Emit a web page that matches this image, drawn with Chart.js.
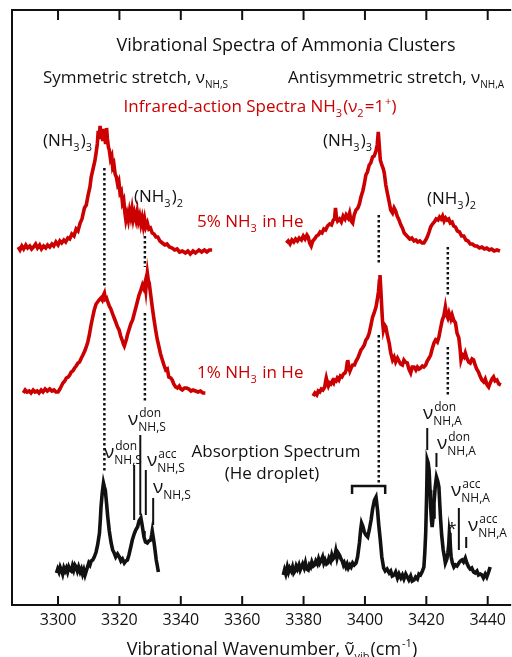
<!DOCTYPE html>
<html>
<head>
<meta charset="utf-8">
<script src="https://cdn.jsdelivr.net/npm/chart.js@4.4.0/dist/chart.umd.min.js"></script>
<style>
  html, body { margin: 0; padding: 0; background: #fff; }
  #spectra { display: block; }
</style>
</head>
<body>
<canvas id="spectra" width="512" height="657"></canvas>
<script>
(function () {
    // wavenumber ticks (cm-1)
    var tickValues = [3300, 3320, 3340, 3360, 3380, 3400, 3420, 3440];

    // traces: [wavenumber, stacked intensity]
    // 5% NH3 in He, symmetric stretch region
    var sym5 = [[3287.0,358],[3287.6,355],[3288.2,359],[3288.8,356],[3289.5,360],[3290.1,357],[3290.8,359],[3291.4,356],[3292.0,358],[3292.7,361],[3293.3,357],[3294.0,360],[3294.6,356],[3295.3,359],[3296.0,357],[3296.6,360],[3297.3,358],[3298.0,361],[3298.6,359],[3299.3,363],[3300.0,360],[3300.6,364],[3301.2,362],[3301.9,365],[3302.5,363],[3303.2,367],[3303.8,366],[3304.5,371],[3305.2,369],[3305.9,376],[3306.5,374],[3307.2,382],[3307.8,386],[3308.6,397],[3309.2,400],[3309.8,410],[3310.4,418],[3310.8,428],[3311.4,436],[3312.0,444],[3312.4,452],[3312.8,461],[3313.1,474],[3313.4,466],[3313.7,479],[3314.0,468],[3314.3,472],[3314.6,464],[3314.9,476],[3315.2,468],[3315.5,461],[3315.8,477],[3316.1,466],[3316.4,458],[3316.7,455],[3317.1,446],[3317.5,449],[3317.8,438],[3318.2,441],[3318.6,431],[3319.0,428],[3319.4,421],[3319.8,424],[3320.2,412],[3320.6,414],[3321.0,402],[3321.4,405],[3321.8,392],[3322.1,385],[3322.5,391],[3322.9,385],[3323.3,394],[3323.7,388],[3324.1,396],[3324.5,386],[3324.9,392],[3325.4,385],[3325.8,393],[3326.2,384],[3326.6,389],[3327.0,381],[3327.4,387],[3327.8,379],[3328.2,386],[3328.6,378],[3329.1,382],[3329.6,376],[3330.1,377],[3330.7,372],[3331.3,371],[3331.9,368],[3332.5,368],[3333.2,364],[3334.0,362],[3334.8,360],[3335.5,361],[3336.3,358],[3337.2,357],[3338.0,355],[3338.8,356],[3339.6,353],[3340.5,354],[3341.5,352],[3342.3,354],[3343.1,351],[3344.0,354],[3344.8,352],[3345.9,355],[3346.8,353],[3347.7,355],[3348.5,353],[3349.3,355],[3350.2,355]];

    // 5% NH3 in He, antisymmetric stretch region
    var asym5 = [[3374.4,362],[3375.0,364],[3375.6,361],[3376.2,365],[3376.8,363],[3377.4,366],[3378.0,364],[3378.6,367],[3379.3,365],[3379.9,369],[3380.5,366],[3381.1,370],[3381.5,368],[3382.0,362],[3382.5,359],[3383.0,364],[3383.6,366],[3384.2,369],[3384.8,370],[3385.4,373],[3386.0,372],[3386.6,376],[3387.2,375],[3387.8,379],[3388.5,381],[3389.1,380],[3389.7,385],[3390.1,386],[3390.4,397],[3390.7,388],[3391.1,384],[3391.7,386],[3392.3,383],[3392.9,389],[3393.5,386],[3393.9,390],[3394.5,387],[3395.0,392],[3395.5,384],[3396.0,382],[3396.5,390],[3397.1,395],[3397.7,397],[3398.2,401],[3398.7,408],[3399.3,414],[3399.8,421],[3400.3,430],[3400.8,433],[3401.4,440],[3401.9,442],[3402.5,448],[3403.0,449],[3403.6,454],[3404.0,460],[3404.35,473],[3404.7,458],[3405.0,445],[3405.5,440],[3406.0,436],[3406.3,432],[3406.8,420],[3407.3,412],[3407.9,403],[3408.4,395],[3409.0,392],[3409.5,397],[3410.0,394],[3410.5,389],[3411.1,385],[3411.7,380],[3412.2,377],[3412.8,372],[3413.4,370],[3414.0,368],[3414.6,366],[3415.3,367],[3416.0,364],[3416.6,365],[3417.2,363],[3417.9,364],[3418.6,362],[3419.2,362],[3419.8,365],[3420.3,368],[3420.9,373],[3421.4,378],[3422.0,381],[3422.6,383],[3423.2,386],[3423.8,385],[3424.3,388],[3424.8,386],[3425.3,389],[3425.8,384],[3426.3,387],[3426.8,385],[3427.3,386],[3427.8,382],[3428.4,383],[3428.9,379],[3429.5,378],[3430.1,374],[3430.8,373],[3431.5,369],[3432.2,369],[3432.9,365],[3433.6,364],[3434.3,361],[3435.0,361],[3435.8,359],[3436.5,359],[3437.3,357],[3438.1,358],[3438.9,356],[3439.7,357],[3440.5,355],[3441.3,356],[3442.1,354],[3443.0,355],[3444.0,354]];

    // 1% NH3 in He, symmetric stretch region
    var sym1 = [[3288.7,212],[3289.3,215],[3289.9,213],[3290.6,214],[3291.2,212],[3291.9,215],[3292.5,213],[3293.2,214],[3293.8,212],[3294.5,215],[3295.1,213],[3295.8,216],[3296.5,214],[3297.3,216],[3298.0,214],[3298.7,215],[3299.3,213],[3300.0,213],[3300.6,216],[3301.1,219],[3301.6,222],[3302.2,224],[3302.7,227],[3303.3,228],[3303.8,230],[3304.3,233],[3304.8,234],[3305.4,237],[3305.9,239],[3306.5,242],[3307.0,243],[3307.6,247],[3308.1,250],[3308.7,254],[3309.2,258],[3309.7,263],[3310.2,270],[3310.7,279],[3311.3,288],[3311.8,295],[3312.4,301],[3312.9,303],[3313.4,305],[3314.0,307],[3314.4,305],[3314.8,310],[3315.1,312],[3315.4,306],[3315.8,307],[3316.2,303],[3316.7,299],[3317.2,296],[3317.8,291],[3318.3,287],[3318.8,283],[3319.4,278],[3319.9,275],[3320.4,269],[3321.0,264],[3321.3,261],[3321.6,259],[3322.0,263],[3322.3,266],[3322.6,270],[3323.1,275],[3323.7,281],[3324.3,285],[3324.8,291],[3325.4,298],[3325.9,304],[3326.4,310],[3326.9,314],[3327.5,320],[3327.9,317],[3328.3,322],[3328.6,315],[3328.9,326],[3329.1,332],[3329.4,325],[3329.7,322],[3330.2,310],[3330.7,298],[3331.2,287],[3331.8,275],[3332.3,266],[3332.9,258],[3333.4,251],[3334.0,245],[3334.5,240],[3335.1,235],[3335.6,236],[3336.1,228],[3336.7,227],[3337.2,225],[3337.7,221],[3338.3,218],[3338.9,217],[3339.5,219],[3340.0,216],[3340.5,215],[3341.2,217],[3341.9,217],[3342.6,216],[3343.3,214],[3344.0,215],[3344.8,214],[3345.6,213],[3346.4,214],[3347.2,212],[3348.0,212]];

    // 1% NH3 in He, antisymmetric stretch region
    var asym1 = [[3383.1,209],[3383.7,212],[3384.3,210],[3384.8,214],[3385.3,213],[3385.8,216],[3386.3,215],[3386.9,218],[3387.2,224],[3387.4,227],[3387.8,222],[3388.1,219],[3388.5,222],[3388.9,221],[3389.4,224],[3389.8,222],[3390.1,225],[3390.6,224],[3391.0,227],[3391.5,225],[3392.0,229],[3392.5,228],[3393.0,231],[3393.5,232],[3393.9,235],[3394.2,242],[3394.4,245],[3394.7,239],[3395.1,234],[3395.5,237],[3396.0,240],[3396.6,240],[3397.1,244],[3397.7,247],[3398.2,251],[3398.7,255],[3399.2,257],[3399.8,260],[3400.3,265],[3400.8,267],[3401.4,272],[3401.9,279],[3402.5,288],[3403.0,292],[3403.6,298],[3404.0,305],[3404.4,313],[3404.7,324],[3404.9,330],[3405.2,314],[3405.4,302],[3405.7,285],[3406.0,275],[3406.4,280],[3406.8,278],[3407.3,270],[3407.9,262],[3408.4,252],[3409.0,245],[3409.5,248],[3410.0,243],[3410.6,247],[3411.1,244],[3411.6,241],[3412.2,240],[3412.7,245],[3413.2,243],[3413.8,242],[3414.3,236],[3414.9,232],[3415.4,238],[3416.0,238],[3416.6,235],[3417.1,238],[3417.6,236],[3418.1,237],[3418.7,239],[3419.2,238],[3419.8,240],[3420.3,244],[3420.9,247],[3421.4,250],[3421.9,256],[3422.5,262],[3423.0,265],[3423.6,263],[3424.1,268],[3424.6,276],[3425.2,285],[3425.7,289],[3426.2,298],[3426.6,290],[3427.0,287],[3427.4,292],[3428.0,286],[3428.4,290],[3428.9,285],[3429.5,282],[3430.0,272],[3430.6,267],[3431.0,256],[3431.3,245],[3431.8,250],[3432.3,248],[3432.7,252],[3433.2,247],[3433.8,243],[3434.3,242],[3434.9,246],[3435.4,245],[3435.9,240],[3436.4,236],[3437.0,233],[3437.5,229],[3438.1,225],[3438.7,223],[3439.2,226],[3439.8,220],[3440.3,218],[3440.8,222],[3441.4,226],[3441.9,228],[3442.4,224],[3443.0,225],[3443.6,221],[3444.3,220]];

    // He droplet absorption, symmetric stretch region
    var symAbs = [[3299.5,32],[3299.9,36],[3300.3,33],[3300.7,38],[3301.1,35],[3301.5,31],[3301.9,37],[3302.3,34],[3302.7,37],[3303.1,33],[3303.5,38],[3303.9,35],[3304.3,34],[3304.7,39],[3305.1,35],[3305.5,40],[3305.9,38],[3306.3,34],[3306.7,38],[3307.2,33],[3307.6,36],[3308.0,31],[3308.4,35],[3308.8,30],[3309.2,34],[3309.6,38],[3310.0,42],[3310.4,40],[3310.8,44],[3311.3,45],[3311.8,48],[3312.4,53],[3312.9,60],[3313.5,72],[3313.8,86],[3314.0,98],[3314.4,112],[3314.8,122],[3315.1,118],[3315.4,115],[3315.8,102],[3316.2,88],[3316.7,74],[3317.3,62],[3317.8,55],[3318.3,52],[3318.8,48],[3319.4,51],[3320.0,48],[3320.5,44],[3321.0,46],[3321.6,42],[3322.1,44],[3322.6,45],[3323.1,50],[3323.7,58],[3324.2,65],[3324.8,71],[3325.3,75],[3325.9,78],[3326.4,84],[3327.0,87],[3327.4,80],[3327.7,74],[3328.0,68],[3328.5,63],[3329.1,62],[3329.6,64],[3330.2,65],[3330.5,70],[3330.7,74],[3331.0,68],[3331.3,62],[3331.6,55],[3332.0,45],[3332.3,40],[3332.7,33]];

    // He droplet absorption, antisymmetric stretch region
    var asymAbs = [[3373.4,30],[3373.8,35],[3374.2,31],[3374.7,38],[3375.1,33],[3375.5,37],[3376.0,34],[3376.4,38],[3376.8,32],[3377.2,34],[3377.6,39],[3378.0,36],[3378.5,40],[3378.9,35],[3379.3,38],[3379.7,41],[3380.2,37],[3380.6,42],[3381.0,36],[3381.5,35],[3381.9,40],[3382.3,38],[3382.7,43],[3383.2,39],[3383.6,40],[3384.0,44],[3384.5,41],[3384.9,46],[3385.3,42],[3385.8,45],[3386.2,48],[3386.6,42],[3387.0,45],[3387.5,41],[3387.9,42],[3388.3,47],[3388.8,44],[3389.2,50],[3389.6,46],[3390.1,48],[3390.5,54],[3390.9,47],[3391.3,52],[3391.7,50],[3392.2,46],[3392.6,44],[3393.0,40],[3393.3,42],[3393.8,38],[3394.2,41],[3394.6,37],[3395.1,40],[3395.5,38],[3396.0,42],[3396.5,40],[3397.1,42],[3397.6,48],[3398.2,62],[3398.6,75],[3398.9,82],[3399.3,79],[3399.8,73],[3400.3,70],[3400.9,68],[3401.4,75],[3402.0,85],[3402.5,96],[3403.1,105],[3403.6,108],[3404.1,95],[3404.5,80],[3405.0,65],[3405.5,48],[3406.1,37],[3406.6,34],[3407.2,36],[3407.9,32],[3408.4,34],[3408.9,29],[3409.5,30],[3410.0,33],[3410.6,27],[3411.1,31],[3411.7,27],[3412.2,30],[3412.7,26],[3413.3,31],[3413.8,28],[3414.3,25],[3414.9,29],[3415.4,24],[3416.0,25],[3416.5,28],[3417.1,26],[3417.6,31],[3418.1,30],[3418.6,33],[3419.2,38],[3419.5,52],[3419.8,72],[3420.1,110],[3420.3,145],[3420.6,142],[3420.9,135],[3421.2,115],[3421.4,98],[3421.7,84],[3421.9,78],[3422.2,88],[3422.5,102],[3422.9,118],[3423.3,128],[3423.7,124],[3424.1,118],[3424.4,100],[3424.6,88],[3425.0,70],[3425.5,55],[3425.9,48],[3426.2,42],[3426.7,46],[3427.0,52],[3427.3,60],[3427.5,72],[3427.7,68],[3427.9,55],[3428.1,48],[3428.5,42],[3429.0,38],[3429.5,40],[3430.0,39],[3430.6,42],[3431.1,44],[3431.6,45],[3432.1,43],[3432.7,47],[3433.2,42],[3433.8,38],[3434.3,36],[3434.8,37],[3435.4,33],[3435.9,32],[3436.5,34],[3437.0,30],[3437.6,31],[3438.1,30],[3438.6,27],[3439.2,31],[3439.7,28],[3440.3,33],[3440.8,38]];

    // dotted guides linking cluster peaks: [wavenumber, [top, bottom] segments]
    var peakGuides = [
        [3315.1, [[437, 317], [292, 133]]],
        [3328.3, [[369, 338], [292, 203]]],
        [3404.5, [[390, 340], [270, 122]]],
        [3427.0, [[358, 308], [258, 208]]]
    ];

    // solid band markers above the absorption spectrum: [wavenumber, top, bottom]
    var bandMarks = [
        [3324.8, 140, 85], [3326.8, 170, 90], [3328.6, 135, 90], [3331.0, 107, 80],
        [3420.3, 177, 155], [3423.3, 152, 138], [3430.6, 97, 55], [3433.0, 68, 57]
    ];

    // bracket over the (NH3)3 doublet
    var bracket = [[3395.8, 111], [3395.8, 119], [3406.6, 119], [3406.6, 111]];

    var RED = '#cc0000';
    var INK = '#111111';
    var FONT = '"Open Sans", "DejaVu Sans", sans-serif';

    function trace(points, color) {
        return {
            data: points, borderColor: color, borderWidth: 3.6,
            pointRadius: 0, tension: 0, fill: false, borderJoinStyle: 'miter'
        };
    }

    var datasets = [
        trace(sym5, RED), trace(asym5, RED), trace(sym1, RED), trace(asym1, RED),
        trace(symAbs, INK), trace(asymAbs, INK)
    ];

    peakGuides.forEach(function (g) {
        var pts = [];
        g[1].forEach(function (seg, i) {
            if (i > 0) pts.push([g[0], null]);
            pts.push([g[0], seg[0]], [g[0], seg[1]]);
        });
        datasets.push({
            data: pts, borderColor: INK, borderWidth: 2.5, borderDash: [2.5, 2.5],
            borderCapStyle: 'butt', pointRadius: 0, spanGaps: false
        });
    });

    bandMarks.forEach(function (m) {
        datasets.push({
            data: [[m[0], m[1]], [m[0], m[2]]],
            borderColor: INK, borderWidth: 2, pointRadius: 0
        });
    });

    datasets.push({
        data: bracket, borderColor: INK, borderWidth: 2.5, pointRadius: 0,
        borderJoinStyle: 'miter'
    });

    // text with sub/superscripts; parts are strings or {sup, sub}
    function rich(ctx, x, y, parts, size, color, align, small) {
        small = small || Math.round(size * 0.62);
        var big = size + 'px ' + FONT, sm = small + 'px ' + FONT;
        var widths = parts.map(function (p) {
            if (typeof p === 'string') { ctx.font = big; return ctx.measureText(p).width; }
            ctx.font = sm;
            return Math.max(p.sup ? ctx.measureText(p.sup).width : 0,
                            p.sub ? ctx.measureText(p.sub).width : 0) + 1;
        });
        var total = widths.reduce(function (a, b) { return a + b; }, 0);
        var cx = align === 'center' ? x - total / 2 : x;
        ctx.fillStyle = color;
        ctx.textAlign = 'left';
        ctx.textBaseline = 'alphabetic';
        parts.forEach(function (p, i) {
            if (typeof p === 'string') {
                ctx.font = big;
                ctx.fillText(p, cx, y);
            } else {
                ctx.font = sm;
                if (p.sup) ctx.fillText(p.sup, cx + 1, y - size * 0.42);
                if (p.sub) ctx.fillText(p.sub, cx, y + size * 0.3);
            }
            cx += widths[i];
        });
    }

    var decor = {
        id: 'decor',
        afterDraw: function (chart) {
            var ctx = chart.ctx, a = chart.chartArea, xs = chart.scales.x;
            ctx.save();
            // frame and inward ticks
            ctx.strokeStyle = INK;
            ctx.lineWidth = 2;
            ctx.beginPath();
            ctx.moveTo(a.right + 2, a.top); ctx.lineTo(a.left, a.top);
            ctx.lineTo(a.left, a.bottom); ctx.lineTo(a.right + 2, a.bottom);
            tickValues.forEach(function (v) {
                var px = xs.getPixelForValue(v);
                ctx.moveTo(px, a.bottom); ctx.lineTo(px, a.bottom - 9);
                ctx.moveTo(px, a.top); ctx.lineTo(px, a.top + 10);
            });
            ctx.stroke();

            // headings
            rich(ctx, 286, 50.5, ['Vibrational Spectra of Ammonia Clusters'], 18, INK, 'center');
            rich(ctx, 43, 82.5, ['Symmetric stretch, ν', {sub: 'NH,S'}], 17, INK, 'left', 10);
            rich(ctx, 288, 82.5, ['Antisymmetric stretch, ν', {sub: 'NH,A'}], 17, INK, 'left', 10);
            rich(ctx, 260, 112, ['Infrared-action Spectra NH', {sub: '3'}, '(ν', {sub: '2'}, '=1', {sup: '+'}, ')'], 17, RED, 'center', 11);

            // cluster labels
            var cl3 = ['(NH', {sub: '3'}, ')', {sub: '3'}];
            var cl2 = ['(NH', {sub: '3'}, ')', {sub: '2'}];
            rich(ctx, 43, 146, cl3, 17, INK, 'left', 11);
            rich(ctx, 134, 202, cl2, 17, INK, 'left', 11);
            rich(ctx, 323, 146, cl3, 17, INK, 'left', 11);
            rich(ctx, 427, 204, cl2, 17, INK, 'left', 11);
            rich(ctx, 197, 226.5, ['5% NH', {sub: '3'}, ' in He'], 17, RED, 'left', 11);
            rich(ctx, 197, 378, ['1% NH', {sub: '3'}, ' in He'], 17, RED, 'left', 11);

            rich(ctx, 276, 457, ['Absorption Spectrum'], 17, INK, 'center');
            rich(ctx, 272, 479, ['(He droplet)'], 17, INK, 'center');

            // band assignments
            rich(ctx, 128, 425, ['ν', {sup: 'don', sub: 'NH,S'}], 19, INK, 'left', 12);
            rich(ctx, 104, 458, ['ν', {sup: 'don', sub: 'NH,S'}], 19, INK, 'left', 12);
            rich(ctx, 147, 466, ['ν', {sup: 'acc', sub: 'NH,S'}], 19, INK, 'left', 12);
            rich(ctx, 153, 493, ['ν', {sub: 'NH,S'}], 19, INK, 'left', 12);
            rich(ctx, 423, 419, ['ν', {sup: 'don', sub: 'NH,A'}], 19, INK, 'left', 12);
            rich(ctx, 437, 449, ['ν', {sup: 'don', sub: 'NH,A'}], 19, INK, 'left', 12);
            rich(ctx, 451, 496, ['ν', {sup: 'acc', sub: 'NH,A'}], 19, INK, 'left', 12);
            rich(ctx, 468, 531, ['ν', {sup: 'acc', sub: 'NH,A'}], 19, INK, 'left', 12);
            rich(ctx, 452, 534, ['*'], 17, INK, 'center');

            // axis title
            rich(ctx, 272, 655, ['Vibrational Wavenumber, ν\u0303', {sub: 'vib'}, '(cm', {sup: '-1'}, ')'], 18, INK, 'center', 11);
            ctx.restore();
        }
    };

    var ctx = document.getElementById('spectra').getContext('2d');
    var chart = new Chart(ctx, {
        type: 'line',
        data: { datasets: datasets },
        options: {
            animation: false,
            responsive: false,
            devicePixelRatio: 1,
            layout: { padding: { top: 10, left: 12, right: 0, bottom: 0 } },
            plugins: { legend: { display: false }, tooltip: { enabled: false } },
            scales: {
                x: {
                    type: 'linear', min: 3285, max: 3447,
                    grid: { display: false, drawTicks: false },
                    border: { display: false },
                    ticks: {
                        font: { family: 'Open Sans', size: 16 }, color: INK, padding: 6,
                        callback: function (v) { return String(v); }
                    },
                    afterBuildTicks: function (s) {
                        s.ticks = tickValues.map(function (v) { return { value: v }; });
                    },
                    afterFit: function (s) { s.height = 52; }
                },
                y: { display: false, min: 0, max: 595 }
            }
        },
        plugins: [decor]
    });
})();
</script>
</body>
</html>
